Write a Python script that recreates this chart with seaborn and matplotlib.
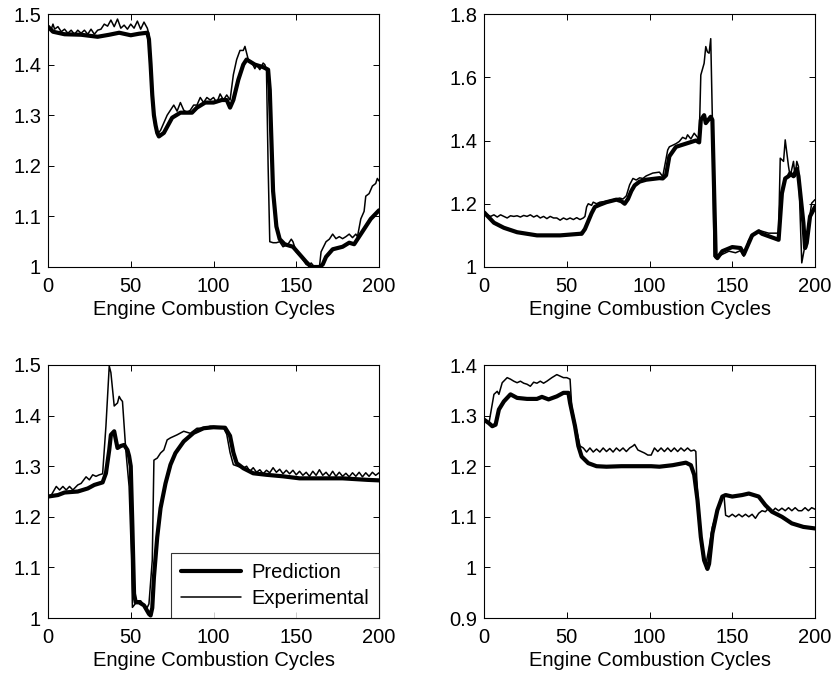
import numpy as np
import pandas as pd
import seaborn as sns
import matplotlib
matplotlib.use("Agg")
import matplotlib.pyplot as plt

# ---------------- data ----------------
# Panel 1 (top-left)
p1_pred_x = [0, 3, 10, 20, 30, 37, 43, 50, 55, 60, 61, 62, 63, 64, 65, 66, 67, 70, 75, 80, 87, 90, 95,
             100, 105, 108, 110, 112, 115, 118, 120, 125, 130, 133, 134, 135, 136, 138, 140, 143, 148,
             152, 156, 159, 164, 166, 168, 172, 178, 182, 185, 190, 195, 200]
p1_pred_y = [1.475, 1.465, 1.46, 1.459, 1.455, 1.459, 1.463, 1.458, 1.461, 1.463, 1.45, 1.40, 1.34, 1.30,
             1.28, 1.265, 1.258, 1.265, 1.295, 1.305, 1.305, 1.315, 1.325, 1.325, 1.33, 1.33, 1.315,
             1.33, 1.37, 1.40, 1.41, 1.40, 1.395, 1.39, 1.35, 1.25, 1.15, 1.08, 1.055, 1.045, 1.04,
             1.025, 1.01, 1.0, 1.0, 1.005, 1.02, 1.035, 1.04, 1.048, 1.045, 1.07, 1.095, 1.112]
p1_exp_x = [0, 2, 3, 4, 6, 8, 10, 12, 14, 16, 18, 20, 22, 24, 26, 28, 30, 32, 34, 36, 38, 40, 42, 44,
            46, 48, 50, 52, 54, 56, 58, 60, 61, 63, 64, 66, 68, 72, 74, 76, 78, 80, 82, 84, 86, 88,
            90, 92, 94, 96, 98, 100, 102, 104, 106, 108, 110, 112, 114, 116, 118, 119, 121, 123, 125,
            126, 128, 130, 131, 132, 133, 134, 136, 138, 140, 142, 145, 147, 148, 150, 153, 156, 158,
            159, 161, 164, 165, 168, 170, 172, 174, 176, 178, 180, 182, 184, 186, 187, 189, 191, 192,
            194, 196, 198, 199, 200]
p1_exp_y = [1.475, 1.47, 1.48, 1.47, 1.475, 1.465, 1.47, 1.462, 1.468, 1.46, 1.468, 1.462, 1.468, 1.46,
            1.47, 1.46, 1.468, 1.47, 1.48, 1.476, 1.488, 1.475, 1.49, 1.472, 1.478, 1.47, 1.48, 1.472,
            1.486, 1.47, 1.484, 1.472, 1.46, 1.33, 1.29, 1.262, 1.27, 1.30, 1.31, 1.32, 1.308, 1.325,
            1.31, 1.305, 1.31, 1.32, 1.32, 1.335, 1.325, 1.335, 1.33, 1.335, 1.325, 1.342, 1.33, 1.34,
            1.33, 1.38, 1.41, 1.428, 1.428, 1.436, 1.41, 1.405, 1.392, 1.40, 1.39, 1.403, 1.40, 1.39,
            1.20, 1.05, 1.048, 1.048, 1.05, 1.04, 1.045, 1.055, 1.05, 1.03, 1.02, 1.005, 1.003, 1.008,
            1.0, 1.0, 1.03, 1.05, 1.055, 1.065, 1.056, 1.06, 1.056, 1.06, 1.065, 1.058, 1.065, 1.06,
            1.095, 1.11, 1.14, 1.145, 1.16, 1.165, 1.175, 1.17]

# Panel 2 (top-right)
p2_pred_x = [0, 6, 12, 20, 32, 46, 58, 59, 61, 63, 65, 67, 70, 74, 80, 83, 85, 87, 89, 91, 94, 98, 106,
             108, 110, 112, 116, 122, 128, 130, 131, 133, 134, 137, 138, 140, 141, 144, 150, 155, 157,
             162, 166, 168, 178, 180, 182, 184, 185, 187, 189, 190, 193, 194, 195, 197, 200]
p2_pred_y = [1.173, 1.14, 1.124, 1.11, 1.10, 1.10, 1.105, 1.105, 1.12, 1.145, 1.17, 1.19, 1.197, 1.205,
             1.213, 1.208, 1.20, 1.215, 1.24, 1.258, 1.27, 1.276, 1.281, 1.28, 1.29, 1.35, 1.38, 1.39,
             1.40, 1.394, 1.465, 1.48, 1.455, 1.475, 1.465, 1.034, 1.028, 1.05, 1.063, 1.06, 1.04, 1.10,
             1.113, 1.105, 1.086, 1.233, 1.28, 1.287, 1.296, 1.287, 1.31, 1.287, 1.139, 1.06, 1.076,
             1.16, 1.19]
p2_exp_x = [0, 2, 4, 6, 8, 10, 12, 14, 16, 18, 20, 22, 24, 26, 28, 30, 32, 34, 36, 38, 40, 42, 44, 46,
            48, 50, 52, 54, 56, 58, 60, 61, 62, 63, 65, 66, 68, 70, 74, 78, 82, 84, 86, 88, 90, 92, 94,
            96, 98, 102, 106, 108, 111, 112, 116, 118, 120, 122, 123, 125, 127, 129, 130, 131, 133,
            134, 135, 136, 137, 138, 139, 140, 144, 148, 152, 155, 157, 160, 166, 172, 178, 179, 181,
            182, 184, 185, 187, 188, 189, 190, 192, 194, 195, 198, 200]
p2_exp_y = [1.17, 1.165, 1.16, 1.165, 1.158, 1.165, 1.16, 1.155, 1.162, 1.16, 1.162, 1.158, 1.163, 1.16,
            1.165, 1.158, 1.163, 1.155, 1.16, 1.153, 1.16, 1.155, 1.155, 1.148, 1.155, 1.15, 1.155,
            1.15, 1.156, 1.15, 1.155, 1.16, 1.19, 1.20, 1.195, 1.205, 1.20, 1.205, 1.208, 1.213, 1.218,
            1.215, 1.225, 1.26, 1.28, 1.275, 1.282, 1.28, 1.288, 1.297, 1.30, 1.286, 1.37, 1.38, 1.39,
            1.397, 1.41, 1.405, 1.418, 1.405, 1.423, 1.41, 1.397, 1.607, 1.644, 1.697, 1.68, 1.676,
            1.722, 1.465, 1.034, 1.028, 1.04, 1.05, 1.045, 1.052, 1.034, 1.086, 1.116, 1.107, 1.107,
            1.344, 1.334, 1.402, 1.318, 1.286, 1.334, 1.286, 1.334, 1.318, 1.013, 1.07, 1.097, 1.202,
            1.213]

# Panel 3 (bottom-left)
p3_pred_x = [0, 6, 10, 18, 24, 28, 33, 35, 37, 38, 40, 41, 42, 44, 46, 48, 49, 50, 51, 52, 53, 55, 58,
             61, 62, 63, 64, 66, 68, 71, 74, 77, 82, 88, 94, 100, 107, 110, 112, 114, 118, 124, 132,
             142, 152, 162, 178, 193, 200]
p3_pred_y = [1.24, 1.243, 1.248, 1.25, 1.256, 1.263, 1.268, 1.286, 1.332, 1.362, 1.369, 1.352, 1.336,
             1.34, 1.342, 1.332, 1.32, 1.30, 1.18, 1.048, 1.031, 1.031, 1.025, 1.008, 1.005, 1.02, 1.08,
             1.16, 1.217, 1.266, 1.303, 1.326, 1.349, 1.366, 1.375, 1.377, 1.376, 1.36, 1.327, 1.306,
             1.296, 1.286, 1.283, 1.28, 1.276, 1.276, 1.276, 1.273, 1.272]
p3_exp_x = [0, 2, 5, 7, 9, 11, 13, 15, 18, 20, 23, 25, 27, 29, 31, 33, 35, 37, 38, 40, 42, 43, 44, 45,
            47, 49, 50.5, 51, 52, 54, 56, 58, 60, 61, 63, 64, 66, 68, 70, 72, 74, 78, 82, 86, 90, 94,
            98, 102, 106, 108, 110, 112, 118, 120, 122, 124, 126, 128, 130, 132, 134, 136, 138, 140,
            142, 144, 146, 148, 150, 152, 154, 156, 158, 160, 162, 164, 166, 168, 170, 172, 174, 176,
            178, 180, 182, 184, 186, 188, 190, 192, 194, 196, 198, 200]
p3_exp_y = [1.24, 1.243, 1.26, 1.253, 1.26, 1.253, 1.26, 1.253, 1.263, 1.266, 1.279, 1.273, 1.283, 1.28,
            1.283, 1.285, 1.379, 1.498, 1.485, 1.419, 1.425, 1.438, 1.432, 1.428, 1.332, 1.26, 1.114,
            1.021, 1.025, 1.034, 1.034, 1.025, 1.021, 1.028, 1.114, 1.312, 1.316, 1.326, 1.332, 1.352,
            1.356, 1.362, 1.369, 1.365, 1.375, 1.375, 1.379, 1.378, 1.376, 1.363, 1.327, 1.303, 1.296,
            1.30, 1.29, 1.297, 1.288, 1.293, 1.285, 1.292, 1.287, 1.297, 1.288, 1.294, 1.285, 1.292,
            1.285, 1.292, 1.283, 1.29, 1.282, 1.288, 1.28, 1.29, 1.282, 1.293, 1.282, 1.288, 1.28, 1.29,
            1.28, 1.288, 1.28, 1.286, 1.279, 1.287, 1.28, 1.288, 1.279, 1.287, 1.28, 1.288, 1.282,
            1.287]

# Panel 4 (bottom-right)
p4_pred_x = [0, 3, 5, 7, 9, 12, 16, 20, 26, 32, 35, 39, 44, 48, 51, 52, 55, 57, 59, 63, 68, 74, 83, 91,
             101, 106, 114, 122, 125, 127, 129, 131, 133, 135, 136, 138, 141, 144, 146, 150, 156, 160,
             166, 170, 174, 180, 186, 193, 200]
p4_pred_y = [1.292, 1.285, 1.279, 1.282, 1.312, 1.328, 1.342, 1.335, 1.333, 1.333, 1.337, 1.332, 1.338,
             1.345, 1.345, 1.325, 1.279, 1.24, 1.219, 1.206, 1.20, 1.199, 1.20, 1.20, 1.20, 1.199,
             1.202, 1.207, 1.202, 1.183, 1.133, 1.06, 1.014, 0.997, 1.007, 1.067, 1.113, 1.14, 1.143,
             1.14, 1.143, 1.146, 1.14, 1.123, 1.11, 1.10, 1.087, 1.08, 1.077]
p4_exp_x = [0, 3, 6, 8, 9, 11, 14, 16, 18, 20, 22, 24, 26, 28, 30, 32, 34, 36, 38, 41, 44, 46, 48, 50,
            52, 53, 55, 58, 60, 62, 64, 66, 68, 70, 72, 74, 76, 78, 80, 82, 84, 86, 88, 90, 91, 93, 95,
            97, 99, 101, 103, 105, 107, 109, 111, 113, 115, 117, 119, 121, 123, 125, 127, 128, 128.5,
            130, 132, 134, 136, 138, 141, 144, 145, 146, 148, 150, 152, 154, 156, 158, 160, 162, 164,
            166, 168, 170, 172, 174, 176, 178, 180, 182, 184, 186, 188, 190, 192, 194, 196, 198, 200]
p4_exp_y = [1.292, 1.285, 1.342, 1.348, 1.342, 1.365, 1.375, 1.372, 1.368, 1.365, 1.368, 1.364, 1.362,
            1.358, 1.366, 1.364, 1.368, 1.364, 1.368, 1.375, 1.381, 1.378, 1.375, 1.375, 1.372, 1.318,
            1.285, 1.24, 1.236, 1.228, 1.236, 1.228, 1.234, 1.228, 1.236, 1.229, 1.235, 1.228, 1.236,
            1.23, 1.236, 1.229, 1.236, 1.24, 1.243, 1.232, 1.229, 1.226, 1.222, 1.222, 1.236, 1.229,
            1.236, 1.229, 1.236, 1.229, 1.236, 1.229, 1.236, 1.23, 1.236, 1.23, 1.232, 1.229, 1.18,
            1.10, 1.027, 1.004, 1.04, 1.08, 1.113, 1.14, 1.143, 1.103, 1.10, 1.105, 1.10, 1.105, 1.10,
            1.105, 1.10, 1.105, 1.097, 1.107, 1.112, 1.11, 1.117, 1.11, 1.117, 1.112, 1.117, 1.112,
            1.118, 1.112, 1.118, 1.112, 1.112, 1.118, 1.112, 1.118, 1.115]

panels = [
    (p1_pred_x, p1_pred_y, p1_exp_x, p1_exp_y, (1.0, 1.5), [1.0, 1.1, 1.2, 1.3, 1.4, 1.5], ["1", "1.1", "1.2", "1.3", "1.4", "1.5"]),
    (p2_pred_x, p2_pred_y, p2_exp_x, p2_exp_y, (1.0, 1.8), [1.0, 1.2, 1.4, 1.6, 1.8], ["1", "1.2", "1.4", "1.6", "1.8"]),
    (p3_pred_x, p3_pred_y, p3_exp_x, p3_exp_y, (1.0, 1.5), [1.0, 1.1, 1.2, 1.3, 1.4, 1.5], ["1", "1.1", "1.2", "1.3", "1.4", "1.5"]),
    (p4_pred_x, p4_pred_y, p4_exp_x, p4_exp_y, (0.9, 1.4), [0.9, 1.0, 1.1, 1.2, 1.3, 1.4], ["0.9", "1", "1.1", "1.2", "1.3", "1.4"]),
]
x_ticks = [0, 50, 100, 150, 200]
x_label = "Engine Combustion Cycles"

# ---------------- style ----------------
sns.set_theme(style="white")
plt.rcParams["font.family"] = ["Liberation Sans", "DejaVu Sans"]
plt.rcParams["text.color"] = "black"
plt.rcParams["axes.labelcolor"] = "black"
FS = 14.5
plt.rcParams["font.size"] = FS

fig = plt.figure(figsize=(8.38, 6.79), dpi=100)
rects = [
    (48 / 838, 1 - 267 / 679, 331 / 838, 253 / 679),
    (484 / 838, 1 - 267 / 679, 331 / 838, 253 / 679),
    (48 / 838, 1 - 618 / 679, 331 / 838, 253 / 679),
    (484 / 838, 1 - 618 / 679, 331 / 838, 253 / 679),
]

for i, (rect, (px, py, ex, ey, ylim, yt, ytl)) in enumerate(zip(rects, panels)):
    ax = fig.add_axes(rect)
    df_p = pd.DataFrame({"x": px, "y": py})
    df_e = pd.DataFrame({"x": ex, "y": ey})
    sns.lineplot(data=df_p, x="x", y="y", ax=ax, color="black", linewidth=3.0,
                 estimator=None, sort=False, label="Prediction")
    sns.lineplot(data=df_e, x="x", y="y", ax=ax, color="black", linewidth=1.1,
                 estimator=None, sort=False, label="Experimental")
    ax.set_xlim(0, 200)
    ax.set_ylim(*ylim)
    ax.set_xticks(x_ticks)
    ax.set_xticklabels([str(t) for t in x_ticks])
    ax.set_yticks(yt)
    ax.set_yticklabels(ytl)
    ax.set_xlabel(x_label, fontsize=FS, labelpad=3, color="black")
    ax.set_ylabel("")
    ax.tick_params(direction="in", length=4, width=0.7, top=True, right=True,
                   bottom=True, left=True, labelsize=FS, colors="black")
    ax.tick_params(axis="x", pad=7)
    ax.tick_params(axis="y", pad=5)
    for s in ax.spines.values():
        s.set_color("black")
        s.set_linewidth(0.8)
    if i == 2:
        leg = ax.legend(loc="lower right", borderaxespad=0, frameon=True, fancybox=False,
                        edgecolor="black", fontsize=FS, handlelength=3.0,
                        borderpad=0.5, labelspacing=0.35, handletextpad=0.5)
        leg.get_frame().set_linewidth(0.8)
        for t in leg.get_texts():
            t.set_color("black")
    else:
        ax.get_legend().remove()

fig.savefig("out.png", dpi=100, facecolor="white")
